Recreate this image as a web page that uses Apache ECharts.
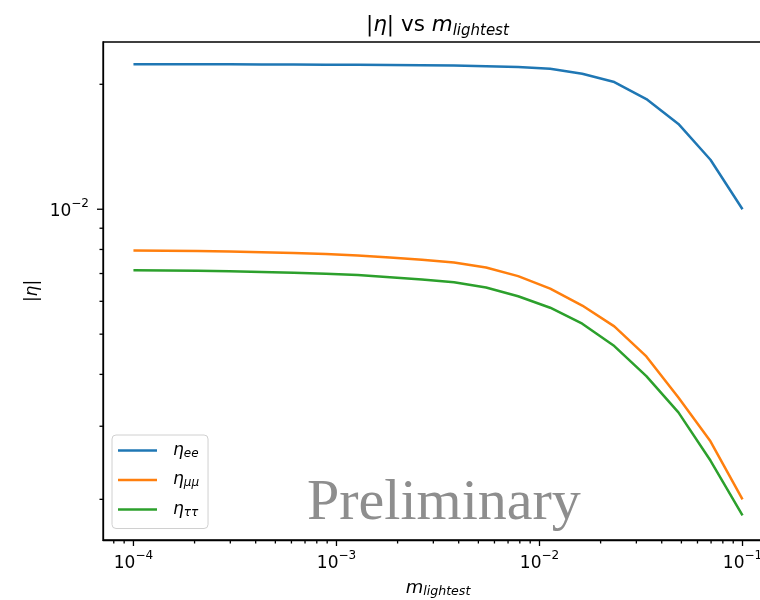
<!DOCTYPE html>
<html>
<head>
<meta charset="utf-8">
<title>|η| vs m_lightest</title>
<script src="https://cdn.jsdelivr.net/npm/echarts@6/dist/echarts.min.js"></script>
</head>
<body style="margin:0;background:#fff;overflow:hidden">
<!-- the original figure is cut off on the right, so the canvas is a bit wider than the window -->
<div id="main" style="width:776px;height:600px;"></div>
<script>
// m_lightest sample points (20 log-spaced values, 1e-4 .. 1e-1)
var mLightest = [1.000e-4, 1.438e-4, 2.069e-4, 2.976e-4, 4.281e-4, 6.158e-4, 8.859e-4, 1.274e-3, 1.833e-3, 2.637e-3,
                 3.793e-3, 5.456e-3, 7.848e-3, 1.129e-2, 1.624e-2, 2.336e-2, 3.360e-2, 4.833e-2, 6.952e-2, 1.000e-1];
var etaEE = [0.02235, 0.02235, 0.02234, 0.02234, 0.02233, 0.02232, 0.02230, 0.02228, 0.02226, 0.02224,
             0.02220, 0.02212, 0.02200, 0.02180, 0.02120, 0.02025, 0.01843, 0.01605, 0.01316, 0.01000];
var etaMuMu = [0.00795, 0.00794, 0.00793, 0.00791, 0.00788, 0.00784, 0.00780, 0.00774, 0.00765, 0.00756,
               0.00744, 0.00724, 0.00690, 0.00644, 0.00586, 0.00522, 0.00442, 0.00352, 0.00276, 0.00200];
var etaTauTau = [0.00713, 0.00712, 0.00711, 0.00709, 0.00706, 0.00703, 0.00699, 0.00694, 0.00686, 0.00677,
                 0.00667, 0.00648, 0.00617, 0.00579, 0.00530, 0.00468, 0.00396, 0.00324, 0.00248, 0.00183];
var seriesNames = ['ee', 'μμ', 'ττ'];
var colors = ['#1f77b4', '#ff7f0e', '#2ca02c'];

// tick values
var xMajorTicks = [1e-4, 1e-3, 1e-2, 1e-1];
var yMajorTicks = [1e-2];
var xMinorTicks = [8e-5, 9e-5, 2e-4, 3e-4, 4e-4, 5e-4, 6e-4, 7e-4, 8e-4, 9e-4,
                   2e-3, 3e-3, 4e-3, 5e-3, 6e-3, 7e-3, 8e-3, 9e-3,
                   2e-2, 3e-2, 4e-2, 5e-2, 6e-2, 7e-2, 8e-2, 9e-2];
var yMinorTicks = [2e-3, 3e-3, 4e-3, 5e-3, 6e-3, 7e-3, 8e-3, 9e-3, 2e-2];

// axis limits (matplotlib-style 5% log margins)
var X_MIN = 7.08e-5, X_MAX = 0.1413;
var Y_MIN = 0.001596, Y_MAX = 0.02529;

var font = 'DejaVu Sans';

function pairs(ys) {
  return mLightest.map(function (x, i) { return [x, ys[i]]; });
}

function expLabel(v) {
  var e = Math.round(Math.log(v) / Math.LN10);
  return '{b|10}{s|' + (e < 0 ? '\u2212' + (-e) : e) + '}';
}

var supRich = {
  b: { fontFamily: font, fontSize: 17, fill: '#000', lineHeight: 22, verticalAlign: 'bottom' },
  s: { fontFamily: font, fontSize: 12, fill: '#000', lineHeight: 16, verticalAlign: 'top' }
};

var tickStyle = { stroke: '#000', lineWidth: 1.3 };

var myChart = echarts.init(document.getElementById('main'));

var option = {
  animation: false,
  title: {
    text: '{n||}{i|η}{n||}{n| vs }{i|m}{sub|lightest}',
    left: 361,
    top: 6,
    textStyle: {
      fontWeight: 'normal',
      rich: {
        n: { fontFamily: font, fontSize: 21.5, fontWeight: 'normal', color: '#000', lineHeight: 28, verticalAlign: 'middle' },
        i: { fontFamily: font, fontSize: 21.5, fontWeight: 'normal', fontStyle: 'italic', color: '#000', lineHeight: 28, verticalAlign: 'middle' },
        sub: { fontFamily: font, fontSize: 15, fontWeight: 'normal', fontStyle: 'italic', color: '#000', lineHeight: 14, verticalAlign: 'bottom' }
      }
    }
  },
  grid: {
    left: 103, top: 42, right: 3, bottom: 60,
    outerBoundsMode: 'none',
    show: true, borderColor: '#000', borderWidth: 1.3, backgroundColor: 'transparent'
  },
  legend: {
    data: seriesNames,
    orient: 'vertical',
    left: 112, top: 435,
    padding: [7, 9, 10, 6],
    itemGap: 12,
    itemWidth: 39, itemHeight: 2.5,
    icon: 'rect',
    borderColor: '#d0d0d0', borderWidth: 1, borderRadius: 4,
    backgroundColor: 'rgba(255,255,255,0.8)',
    formatter: function (name) { return '{e|η}{s|' + name + '}'; },
    textStyle: {
      padding: [0, 0, 0, 11],
      rich: {
        e: { fontFamily: font, fontSize: 17, fontStyle: 'italic', color: '#000', lineHeight: 18, verticalAlign: 'middle' },
        s: { fontFamily: font, fontSize: 12, fontStyle: 'italic', color: '#000', lineHeight: 10, verticalAlign: 'bottom' }
      }
    }
  },
  graphic: [{
    type: 'text',
    x: 307, y: 533,
    silent: true,
    z: 100,
    style: {
      text: 'Preliminary',
      font: '58px "Liberation Serif"',
      fill: '#8e8e8e',
      verticalAlign: 'bottom'
    }
  }],
  xAxis: {
    type: 'log', logBase: 10,
    min: X_MIN, max: X_MAX,
    name: '{i|m}{s|lightest}',
    nameLocation: 'middle',
    nameGap: 38,
    nameTextStyle: {
      rich: {
        i: { fontFamily: font, fontSize: 18, fontStyle: 'italic', color: '#000', lineHeight: 20, verticalAlign: 'middle' },
        s: { fontFamily: font, fontSize: 12.6, fontStyle: 'italic', color: '#000', lineHeight: 10, verticalAlign: 'bottom' }
      }
    },
    axisLine: { lineStyle: { color: '#000', width: 1.3 } },
    axisTick: { show: false },
    axisLabel: { show: false },
    splitLine: { show: false }
  },
  yAxis: {
    type: 'log', logBase: 10,
    min: Y_MIN, max: Y_MAX,
    name: '{n||}{i|η}{n||}',
    nameLocation: 'middle',
    nameRotate: 90,
    nameGap: 62,
    nameTextStyle: {
      rich: {
        n: { fontFamily: font, fontSize: 17, color: '#000' },
        i: { fontFamily: font, fontSize: 17, fontStyle: 'italic', color: '#000' }
      }
    },
    axisLine: { lineStyle: { color: '#000', width: 1.3 } },
    axisTick: { show: false },
    axisLabel: { show: false },
    splitLine: { show: false }
  },
  series: [
    { name: seriesNames[0], type: 'line', data: pairs(etaEE), showSymbol: false, color: colors[0], lineStyle: { width: 2.5 } },
    { name: seriesNames[1], type: 'line', data: pairs(etaMuMu), showSymbol: false, color: colors[1], lineStyle: { width: 2.5 } },
    { name: seriesNames[2], type: 'line', data: pairs(etaTauTau), showSymbol: false, color: colors[2], lineStyle: { width: 2.5 } },
    {
      // x major ticks + labels
      type: 'custom', silent: true, clip: false, z: 10,
      data: xMajorTicks.map(function (v) { return [v, Y_MIN]; }),
      renderItem: function (params, api) {
        var cs = params.coordSys;
        var p = api.coord([api.value(0), api.value(1)]);
        var yb = cs.y + cs.height;
        return {
          type: 'group',
          children: [
            { type: 'line', shape: { x1: p[0], y1: yb, x2: p[0], y2: yb + 6 }, style: tickStyle },
            { type: 'text', x: p[0], y: yb + 10, style: { text: expLabel(api.value(0)), rich: supRich, align: 'center', verticalAlign: 'top' } }
          ]
        };
      }
    },
    {
      // x minor ticks
      type: 'custom', silent: true, clip: false, z: 10,
      data: xMinorTicks.map(function (v) { return [v, Y_MIN]; }),
      renderItem: function (params, api) {
        var cs = params.coordSys;
        var p = api.coord([api.value(0), api.value(1)]);
        var yb = cs.y + cs.height;
        return { type: 'line', shape: { x1: p[0], y1: yb, x2: p[0], y2: yb + 3.5 }, style: tickStyle };
      }
    },
    {
      // y major ticks + labels
      type: 'custom', silent: true, clip: false, z: 10,
      data: yMajorTicks.map(function (v) { return [X_MIN, v]; }),
      renderItem: function (params, api) {
        var cs = params.coordSys;
        var p = api.coord([api.value(0), api.value(1)]);
        return {
          type: 'group',
          children: [
            { type: 'line', shape: { x1: cs.x, y1: p[1], x2: cs.x - 6, y2: p[1] }, style: tickStyle },
            { type: 'text', x: cs.x - 14, y: p[1], style: { text: expLabel(api.value(1)), rich: supRich, align: 'right', verticalAlign: 'middle' } }
          ]
        };
      }
    },
    {
      // y minor ticks
      type: 'custom', silent: true, clip: false, z: 10,
      data: yMinorTicks.map(function (v) { return [X_MIN, v]; }),
      renderItem: function (params, api) {
        var cs = params.coordSys;
        var p = api.coord([api.value(0), api.value(1)]);
        return { type: 'line', shape: { x1: cs.x, y1: p[1], x2: cs.x - 3.5, y2: p[1] }, style: tickStyle };
      }
    }
  ]
};

myChart.setOption(option);
</script>
</body>
</html>
